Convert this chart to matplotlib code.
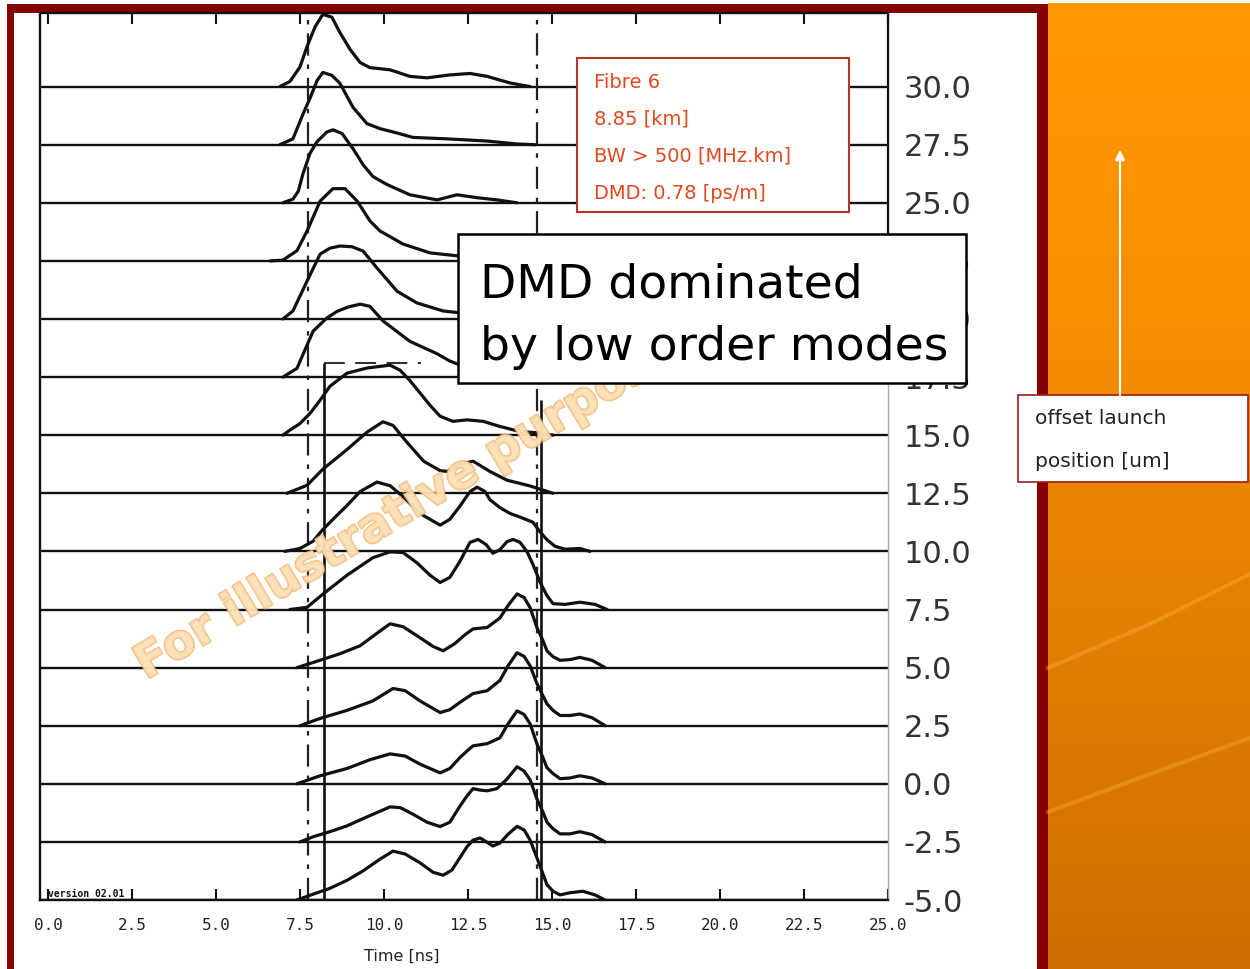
import numpy as np
import matplotlib
matplotlib.use("Agg")
import matplotlib.pyplot as plt
from matplotlib.patches import Rectangle
from matplotlib.colors import LinearSegmentedColormap
import matplotlib.patheffects as pe

# ---------------- data ----------------
offsets = [30.0, 27.5, 25.0, 22.5, 20.0, 17.5, 15.0, 12.5, 10.0, 7.5, 5.0, 2.5, 0.0, -2.5, -5.0]
offset_labels = ["30.0", "27.5", "25.0", "22.5", "20.0", "17.5", "15.0", "12.5",
                 "10.0", "7.5", "5.0", "2.5", "0.0", "-2.5", "-5.0"]
time_ticks = [0.0, 2.5, 5.0, 7.5, 10.0, 12.5, 15.0, 17.5, 20.0, 22.5, 25.0]
time_tick_labels = ["0.0", "2.5", "5.0", "7.5", "10.0", "12.5", "15.0", "17.5", "20.0", "22.5", "25.0"]

# normalised pulse responses (time in ns, relative intensity)
time_p300 = [6.90, 7.20, 7.50, 7.71, 7.95, 8.18, 8.45, 8.69, 8.99, 9.29, 9.58, 10.18, 10.77, 11.28, 11.96, 12.56, 13.07, 13.75, 14.35]
amp_p300 = [0.0, 0.07, 0.27, 0.55, 0.82, 0.99, 0.95, 0.74, 0.51, 0.33, 0.26, 0.23, 0.14, 0.12, 0.16, 0.18, 0.14, 0.05, 0.0]

time_p275 = [6.90, 7.29, 7.59, 7.80, 8.01, 8.18, 8.45, 8.69, 9.08, 9.49, 9.88, 10.39, 10.86, 11.88, 13.07, 13.96, 14.50]
amp_p275 = [0.0, 0.08, 0.42, 0.64, 0.88, 0.99, 0.95, 0.84, 0.51, 0.29, 0.22, 0.16, 0.10, 0.08, 0.05, 0.01, 0.0]

time_p250 = [6.99, 7.29, 7.45, 7.59, 7.80, 8.01, 8.30, 8.48, 8.75, 9.08, 9.38, 9.67, 10.09, 10.77, 11.58, 12.17, 12.77, 13.36, 13.96]
amp_p250 = [0.0, 0.05, 0.16, 0.40, 0.68, 0.84, 0.97, 1.0, 0.95, 0.74, 0.52, 0.36, 0.25, 0.11, 0.04, 0.11, 0.07, 0.04, 0.0]

time_p225 = [6.61, 6.99, 7.41, 7.71, 8.10, 8.48, 8.84, 9.20, 9.58, 9.88, 10.57, 11.37, 12.17, 13.15]
amp_p225 = [0.0, 0.01, 0.14, 0.41, 0.82, 0.99, 0.99, 0.82, 0.55, 0.41, 0.23, 0.11, 0.07, 0.0]

time_p200 = [6.99, 7.29, 7.71, 8.10, 8.39, 8.69, 9.05, 9.38, 9.79, 10.39, 10.98, 11.76, 12.56, 13.45, 14.35]
amp_p200 = [0.0, 0.11, 0.52, 0.89, 0.97, 1.0, 0.99, 0.93, 0.70, 0.38, 0.22, 0.11, 0.07, 0.04, 0.0]

time_p175 = [6.99, 7.41, 7.89, 8.30, 8.60, 8.93, 9.29, 9.58, 9.97, 10.77, 11.58, 11.96, 12.41, 13.01, 13.75, 14.35]
amp_p175 = [0.0, 0.12, 0.63, 0.81, 0.90, 0.96, 1.0, 0.97, 0.77, 0.49, 0.32, 0.22, 0.14, 0.08, 0.04, 0.0]

time_p150 = [6.99, 7.20, 7.50, 7.80, 8.10, 8.39, 8.90, 9.49, 10.18, 10.48, 10.77, 11.07, 11.37, 11.67, 12.05, 12.47, 12.95, 13.45, 14.05, 14.64, 15.03]
amp_p150 = [0.0, 0.07, 0.16, 0.30, 0.48, 0.67, 0.85, 0.92, 0.96, 0.89, 0.75, 0.58, 0.41, 0.26, 0.19, 0.21, 0.19, 0.12, 0.05, 0.03, 0.0]

time_p125 = [7.11, 7.71, 8.18, 8.90, 9.50, 9.97, 10.27, 10.68, 11.18, 11.67, 11.88, 12.26, 12.65, 13.15, 13.66, 14.35, 15.03]
amp_p125 = [0.0, 0.11, 0.33, 0.60, 0.84, 0.98, 0.93, 0.70, 0.44, 0.31, 0.30, 0.40, 0.44, 0.30, 0.18, 0.10, 0.0]

time_p100 = [7.05, 7.50, 7.89, 8.18, 8.57, 8.90, 9.29, 9.79, 10.18, 10.57, 11.07, 11.67, 11.96, 12.26, 12.56, 12.77, 13.01, 13.15, 13.45, 13.75, 14.05, 14.43, 14.64, 14.85, 15.09, 15.39, 15.83, 16.13]
amp_p100 = [0.0, 0.04, 0.14, 0.30, 0.48, 0.63, 0.82, 0.95, 0.90, 0.75, 0.52, 0.36, 0.44, 0.62, 0.82, 0.88, 0.82, 0.71, 0.60, 0.52, 0.47, 0.40, 0.27, 0.16, 0.07, 0.03, 0.04, 0.0]

time_p075 = [7.20, 7.71, 8.18, 8.90, 9.67, 10.18, 10.57, 10.98, 11.37, 11.67, 11.96, 12.26, 12.56, 12.80, 13.04, 13.24, 13.45, 13.66, 13.84, 14.05, 14.26, 14.43, 14.64, 14.85, 15.03, 15.39, 15.83, 16.28, 16.64]
amp_p075 = [0.0, 0.03, 0.21, 0.47, 0.71, 0.79, 0.78, 0.64, 0.47, 0.37, 0.44, 0.66, 0.92, 0.96, 0.89, 0.77, 0.82, 0.93, 0.96, 0.92, 0.79, 0.62, 0.38, 0.19, 0.08, 0.07, 0.10, 0.07, 0.0]

time_p050 = [7.41, 7.89, 8.69, 9.29, 9.79, 10.18, 10.57, 11.07, 11.46, 11.76, 12.11, 12.41, 12.65, 13.07, 13.45, 13.69, 13.96, 14.17, 14.35, 14.55, 14.73, 14.85, 15.03, 15.24, 15.54, 15.83, 16.19, 16.58]
amp_p050 = [0.0, 0.07, 0.19, 0.30, 0.47, 0.60, 0.56, 0.41, 0.29, 0.23, 0.33, 0.45, 0.53, 0.55, 0.68, 0.85, 1.01, 0.96, 0.82, 0.55, 0.37, 0.23, 0.15, 0.10, 0.11, 0.14, 0.10, 0.0]

time_p025 = [7.50, 8.10, 8.90, 9.67, 10.27, 10.63, 11.07, 11.67, 11.96, 12.26, 12.65, 13.07, 13.45, 13.69, 13.96, 14.17, 14.35, 14.55, 14.73, 14.85, 15.03, 15.24, 15.54, 15.83, 16.19, 16.58]
amp_p025 = [0.0, 0.10, 0.21, 0.34, 0.51, 0.48, 0.34, 0.18, 0.22, 0.32, 0.44, 0.48, 0.62, 0.82, 1.0, 0.95, 0.82, 0.58, 0.41, 0.30, 0.21, 0.14, 0.14, 0.16, 0.11, 0.0]

time_p000 = [7.41, 8.10, 8.90, 9.58, 10.18, 10.63, 11.07, 11.67, 11.96, 12.26, 12.47, 12.65, 13.07, 13.45, 13.69, 13.96, 14.17, 14.35, 14.55, 14.73, 14.85, 15.03, 15.24, 15.54, 15.83, 16.19, 16.58]
amp_p000 = [0.0, 0.11, 0.21, 0.33, 0.41, 0.38, 0.27, 0.15, 0.21, 0.36, 0.45, 0.52, 0.55, 0.63, 0.82, 1.0, 0.95, 0.82, 0.55, 0.36, 0.22, 0.14, 0.07, 0.08, 0.11, 0.08, 0.0]

time_m025 = [7.50, 7.89, 8.39, 8.90, 9.43, 9.88, 10.18, 10.48, 10.86, 11.28, 11.67, 11.96, 12.26, 12.47, 12.65, 12.86, 13.07, 13.36, 13.66, 13.96, 14.17, 14.35, 14.55, 14.73, 14.85, 15.03, 15.24, 15.54, 15.83, 16.19, 16.58]
amp_m025 = [0.0, 0.07, 0.14, 0.22, 0.33, 0.42, 0.48, 0.47, 0.38, 0.27, 0.21, 0.27, 0.49, 0.63, 0.73, 0.71, 0.70, 0.73, 0.86, 1.03, 0.97, 0.85, 0.59, 0.41, 0.27, 0.18, 0.11, 0.11, 0.14, 0.10, 0.0]

time_m050 = [7.41, 7.89, 8.39, 8.90, 9.38, 9.88, 10.27, 10.63, 11.07, 11.46, 11.76, 12.02, 12.26, 12.47, 12.65, 12.86, 13.07, 13.24, 13.45, 13.69, 13.96, 14.17, 14.35, 14.55, 14.73, 14.85, 15.03, 15.24, 15.54, 15.92, 16.28, 16.58]
amp_m050 = [0.0, 0.08, 0.16, 0.27, 0.40, 0.56, 0.67, 0.63, 0.51, 0.38, 0.34, 0.41, 0.58, 0.73, 0.82, 0.85, 0.79, 0.74, 0.78, 0.90, 1.01, 0.96, 0.82, 0.58, 0.36, 0.21, 0.12, 0.07, 0.10, 0.12, 0.07, 0.0]

dmd_window = [7.74, 14.55]      # dash-dot reference lines [ns]
marker_times = [8.21, 14.67]    # solid edge markers [ns]

info_lines = ["Fibre 6", "8.85 [km]", "BW > 500 [MHz.km]", "DMD: 0.78 [ps/m]"]
callout_lines = ["DMD dominated", "by low order modes"]
axis_note_lines = ["offset launch", "position [um]"]
watermark = "For illustrative purposes only"
version_text = "version 02.01"

traces = [
    (30.0, time_p300, amp_p300), (27.5, time_p275, amp_p275), (25.0, time_p250, amp_p250),
    (22.5, time_p225, amp_p225), (20.0, time_p200, amp_p200), (17.5, time_p175, amp_p175),
    (15.0, time_p150, amp_p150), (12.5, time_p125, amp_p125), (10.0, time_p100, amp_p100),
    (7.5, time_p075, amp_p075), (5.0, time_p050, amp_p050), (2.5, time_p025, amp_p025),
    (0.0, time_p000, amp_p000), (-2.5, time_m025, amp_m025), (-5.0, time_m050, amp_m050),
]
AMP = 3.14   # pulse height (in offset units) for intensity 1.0

# ---------------- figure ----------------
W, H = 1250, 969
fig = plt.figure(figsize=(12.5, 9.69), dpi=100)
fig.patch.set_facecolor("white")

# background decorations (pixel coordinates)
bg = fig.add_axes([0, 0, 1, 1], zorder=0)
grad = np.linspace(0, 1, 256)[:, None]
cmap = LinearSegmentedColormap.from_list("org", ["#ff9a00", "#f68e00", "#e27e00", "#cf6e00"])
bg.imshow(grad, extent=[1048, W, H, 3], cmap=cmap, aspect="auto", origin="upper")
bg.plot([1048, 1150, 1250], [668, 624, 574], color="#ffad40", lw=3, alpha=0.40)
bg.plot([1048, 1150, 1250], [812, 774, 738], color="#ffad40", lw=3, alpha=0.35)
maroon = "#850000"
bg.add_patch(Rectangle((7, 4), 1041, 9, color=maroon, lw=0))
bg.add_patch(Rectangle((7, 4), 7, H, color=maroon, lw=0))
bg.add_patch(Rectangle((1037, 4), 11, H, color=maroon, lw=0))
bg.set_xlim(0, W)
bg.set_ylim(H, 0)
bg.axis("off")

# main DMD plot
ax = fig.add_axes([40 / W, (H - 900) / H, (888 - 40) / W, (900 - 13) / H], zorder=1)
ax.set_facecolor("none")
x_left, x_right = -8 / 33.6, 25.0
y_bottom, y_top = -5.0, -5.0 + 887 / 23.24
ax.set_xlim(x_left, x_right)
ax.set_ylim(y_bottom, y_top)

ink = "#111111"
ax.hlines(offsets, x_left, x_right, color=ink, lw=1.7, zorder=2)
for off, t, a in traces:
    ax.plot(t, off + AMP * np.array(a), color=ink, lw=2.3, solid_joinstyle="round",
            solid_capstyle="round", zorder=3)

ax.axvline(dmd_window[0], color="#222222", lw=1.6, dashes=(10, 4, 2, 4), zorder=2)
ax.axvline(dmd_window[1], color="#222222", lw=1.6, dashes=(10, 4, 2, 4), zorder=2)
ax.vlines(marker_times[0], -5.0, 18.1, color=ink, lw=1.9, zorder=2)
ax.vlines(marker_times[1], -5.0, 16.5, color=ink, lw=1.9, zorder=2)
ax.plot([marker_times[0], 11.1], [18.1, 18.1], color="#333333", lw=1.5, dashes=(10, 5), zorder=2)

for s in ["left", "top", "bottom"]:
    ax.spines[s].set_color(ink)
    ax.spines[s].set_linewidth(1.7)
ax.spines["right"].set_color("#aaaaaa")
ax.spines["right"].set_linewidth(1.0)
ax.plot([x_right, x_right], [22.0, y_top], color=ink, lw=1.6, clip_on=False, zorder=4)

ax.set_xticks(time_ticks)
ax.set_xticklabels(time_tick_labels, fontfamily="DejaVu Sans Mono", fontsize=11.5, color="#222222")
ax.tick_params(axis="x", direction="in", top=True, bottom=True, length=8, width=1.5, pad=13,
               color=ink)
ax.set_yticks(offsets)
ax.set_yticklabels(offset_labels)
ax.yaxis.tick_right()
ax.tick_params(axis="y", length=0, pad=11, labelsize=22, labelcolor="#333333")

ax.set_xlabel("Time [ns]", fontsize=11.5, color="#222222")
ax.xaxis.label.set_va("center")
ax.xaxis.set_label_coords((402 - 40) / 848, -0.064)

ax.text(0.0, y_bottom + 0.05, version_text, fontsize=7, fontweight="bold",
        family="DejaVu Sans Mono", ha="left", va="bottom", color=ink)

# overlay annotations (pixel coordinates)
ov = fig.add_axes([0, 0, 1, 1], zorder=2)
ov.set_xlim(0, W)
ov.set_ylim(H, 0)
ov.axis("off")

ov.text(146, 680, watermark, rotation=31, rotation_mode="anchor", ha="left", va="baseline",
        fontsize=34, fontweight="bold", color="#fde0b8", alpha=0.8, zorder=1,
        path_effects=[pe.withStroke(linewidth=1.8, foreground="#efb36a")])

ov.add_patch(Rectangle((577, 58), 272, 154, facecolor="white", edgecolor="#b8322a", lw=1.5, zorder=3))
for i, line in enumerate(info_lines):
    ov.text(594, 82 + i * 37, line, fontsize=14, color="#e0491b", ha="left", va="center", zorder=4)

ov.add_patch(Rectangle((458, 234), 508, 149, facecolor="white", edgecolor="black", lw=1.8, zorder=3))
ov.text(480, 298, callout_lines[0], fontsize=34, color="black", ha="left", va="baseline", zorder=4)
ov.text(480, 360, callout_lines[1], fontsize=34, color="black", ha="left", va="baseline", zorder=4)

ov.add_patch(Rectangle((1018, 395), 230, 87, facecolor="white", edgecolor="#a01818", lw=1.2, zorder=3))
ov.text(1035, 419, axis_note_lines[0], fontsize=14.5, color="#222222", ha="left", va="center", zorder=4)
ov.text(1035, 461, axis_note_lines[1], fontsize=14.5, color="#222222", ha="left", va="center", zorder=4)
ov.annotate("", xy=(1120, 150), xytext=(1120, 395),
            arrowprops=dict(arrowstyle="-|>", color="white", lw=1.5, mutation_scale=14,
                            shrinkA=0, shrinkB=0), zorder=4)

fig.savefig("out.png", dpi=100)
